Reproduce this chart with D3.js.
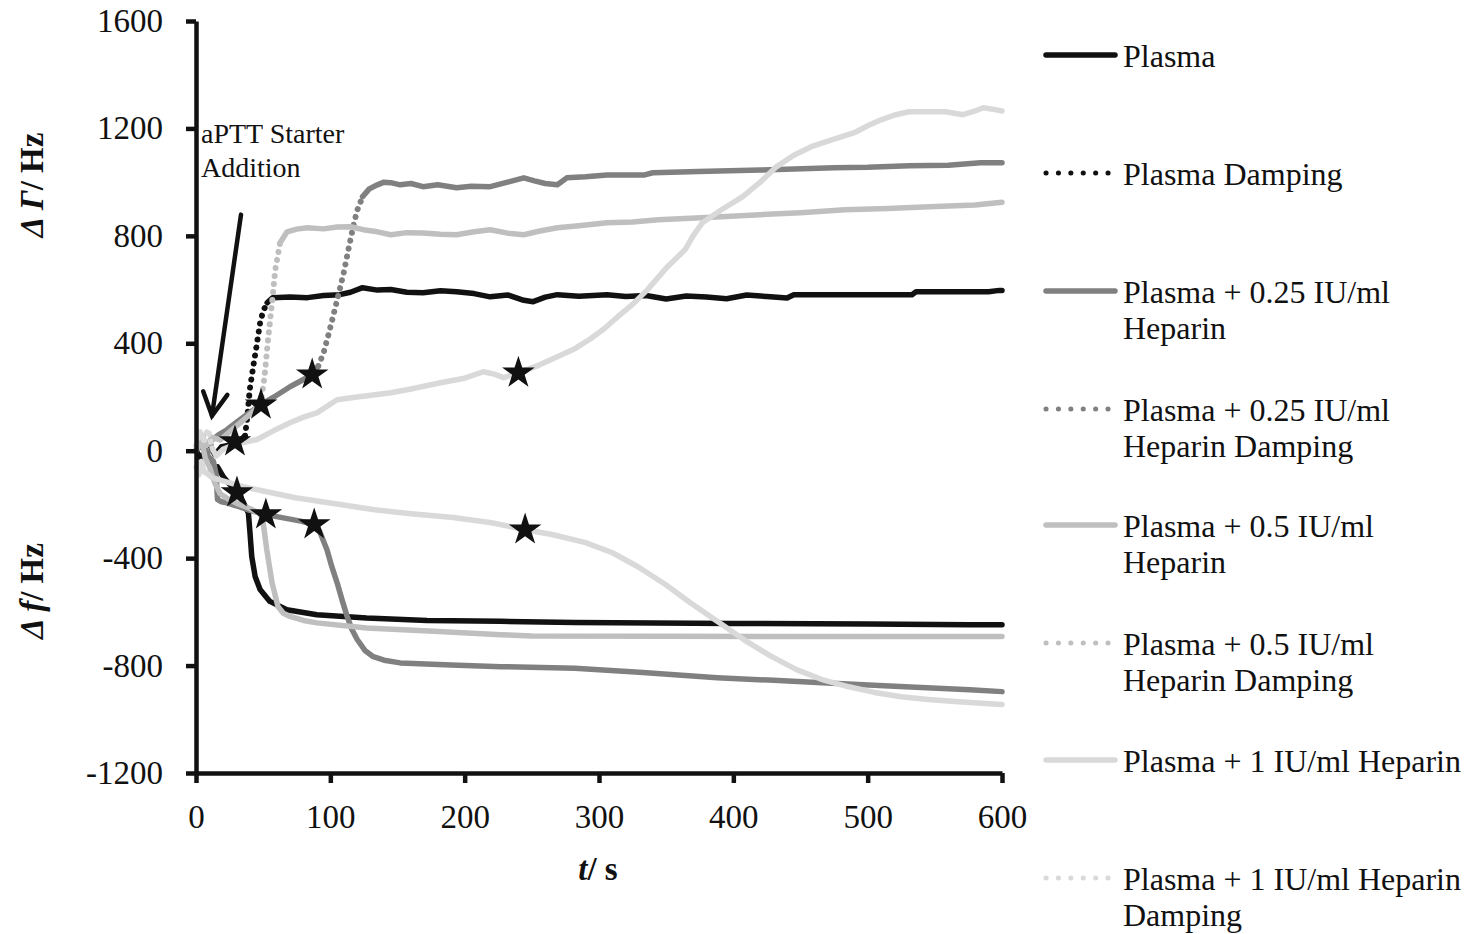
<!DOCTYPE html>
<html><head><meta charset="utf-8">
<script src="https://cdn.jsdelivr.net/npm/d3@7"></script>
<style>
body{margin:0;background:#fff}
svg text{font-family:"Liberation Serif","Times New Roman",serif;fill:#111}
</style>
</head><body>
<svg id="c" width="1472" height="934"></svg>
<script>
// ---------- data (t in s, value in Hz) ----------
const xTicks = [0,100,200,300,400,500,600];
const yTicks = [-1200,-800,-400,0,400,800,1200,1600];

const seriesNames = [
  "Plasma","Plasma Damping",
  "Plasma + 0.25 IU/ml Heparin","Plasma + 0.25 IU/ml Heparin Damping",
  "Plasma + 0.5 IU/ml Heparin","Plasma + 0.5 IU/ml Heparin Damping",
  "Plasma + 1 IU/ml Heparin","Plasma + 1 IU/ml Heparin Damping"
];
const legendLines = [
  ["Plasma"],["Plasma Damping"],
  ["Plasma + 0.25 IU/ml","Heparin"],["Plasma + 0.25 IU/ml","Heparin Damping"],
  ["Plasma + 0.5 IU/ml","Heparin"],["Plasma + 0.5 IU/ml","Heparin Damping"],
  ["Plasma + 1 IU/ml Heparin"],["Plasma + 1 IU/ml Heparin","Damping"]
];

const plasmaF = [[0,0],[4,-30],[8,-15],[12,-70],[16,-60],[20,-95],[25,-125],[30,-156],[35,-190],[39,-232],[40.2,-306],[41.5,-394],[44,-468],[47.7,-517],[55,-561],[67.6,-592],[90,-611],[127,-623],[172,-632],[227,-635],[282,-640],[400,-643],[500,-645],[576,-648],[600,-648]];
const plasmaG = [[0,0],[3,35],[6,-25],[10,25],[14,-15],[19,15],[24,20],[29,34],[33,40],[36.5,55],[38.5,140],[40,227],[42.5,310],[45,387],[47.7,476],[50,520],[53,551],[57,570],[70,572],[83,570],[95,578],[107,581],[115,590],[124,607],[135,598],[145,600],[157,590],[169,588],[182,596],[194,592],[207,585],[219,573],[232,580],[244,560],[251,555],[260,572],[269,581],[285,575],[306,581],[320,574],[335,578],[350,565],[365,576],[380,572],[395,566],[410,580],[425,574],[440,569],[445,581],[480,581],[533,581],[536,592],[590,592],[598,597],[600,597]];
const hep025F = [[0,0],[5,30],[9,-20],[13,-40],[15,-90],[16,-182],[19,-190],[23,-194],[30,-205],[40,-222],[52,-238],[65,-250],[78,-262],[88,-275],[92,-300],[97.5,-369],[101,-430],[105,-491],[109,-560],[112.5,-617],[116,-665],[120,-703],[126,-745],[132,-767],[140,-780],[152,-790],[190,-798],[227,-804],[282,-810],[330,-825],[388,-845],[430,-855],[466,-864],[520,-877],[576,-890],[600,-897]];
const hep025G = [[0,0],[4,55],[8,-20],[12,40],[17,60],[23,78],[30,105],[38,135],[48,171],[58,200],[70,238],[80,265],[86.5,283],[91,315],[95,365],[98.5,430],[102,499],[106,580],[110,663],[113.5,750],[117,834],[120,895],[124,946],[129,975],[135,990],[140,1000],[145,998],[152,990],[160,995],[169,983],[180,990],[194,979],[205,985],[219,983],[232,1000],[244,1016],[252,1005],[260,995],[269,990],[276,1016],[290,1020],[306,1027],[334,1027],[340,1035],[374,1040],[420,1045],[475,1054],[500,1055],[531,1061],[560,1063],[584,1072],[600,1072]];
const hep05F = [[0,0],[4,40],[7,-30],[10,-60],[14,-120],[18,-160],[24,-180],[30,-195],[40,-215],[48,-235],[50,-268],[52.7,-369],[56.6,-491],[61,-580],[65,-605],[70,-617],[80,-632],[90,-641],[127,-660],[177,-672],[227,-685],[250,-690],[350,-691],[450,-692],[600,-692]];
const hep05G = [[0,0],[4,70],[8,20],[12,50],[18,40],[25,70],[32,100],[40,135],[48,171],[51,275],[53.6,413],[56.6,551],[59,674],[62.6,774],[67.8,815],[75,825],[83,830],[95,826],[105,833],[115,834],[124.5,823],[135,815],[145,804],[157,812],[169,811],[182,806],[194,804],[207,815],[219,823],[232,810],[244,804],[256,818],[269,830],[285,838],[306,849],[325,852],[344,860],[380,868],[420,879],[450,886],[483,897],[515,902],[546,908],[580,915],[600,925]];
const hep1F = [[0,-60],[2,-90],[4,-40],[6,-80],[7.5,-82],[12,-100],[20,-112],[35,-134],[50,-150],[74,-175],[100,-195],[133,-220],[160,-235],[191.5,-249],[220,-268],[245,-294],[265,-312],[290,-342],[310,-380],[329,-432],[350,-500],[368,-566],[388,-635],[408,-704],[428,-765],[447,-815],[466,-852],[486,-879],[505,-900],[525,-916],[545,-926],[565,-934],[585,-940],[600,-945]];
const hep1G = [[0,20],[3,70],[6,40],[9,80],[12,10],[15,-20],[20,5],[30,25],[45,41],[58,75],[70,104],[80,125],[90,141],[105,190],[120,200],[145,216],[160,230],[182,253],[200,270],[214,294],[222,285],[229,272],[240,290],[255,318],[269,350],[282,380],[294,418],[304,455],[314,499],[325,545],[336,599],[350,680],[364,748],[370,800],[377,849],[392,900],[407,946],[420,1000],[432,1057],[445,1100],[458,1132],[475,1160],[490,1184],[500,1210],[510,1232],[520,1250],[531,1262],[545,1262],[558,1262],[571,1251],[580,1265],[586,1277],[595,1270],[600,1265]];

const starT = [29,48.4,86.5,240,30.5,52,88,245];
const starV = [34,171,283,290,-156,-238,-275,-294];

// annotation arrow (data coords): tail and tip
const arrowT = [33.5, 11.9];
const arrowV = [879, 130];

// ---------- drawing ----------
const seriesData = [plasmaF, plasmaG, hep025F, hep025G, hep05F, hep05G, hep1F, hep1G];
const colors = ["#111111","#111111","#808080","#808080","#bfbfbf","#bfbfbf","#d9d9d9","#d9d9d9"];
const dotted = [false,true,false,true,false,true,false,true];

const svg = d3.select("#c");
const x = d3.scaleLinear().domain([0,600]).range([196,1002]);
const y = d3.scaleLinear().domain([-1200,1600]).range([773,21]);

const gLines = svg.append("g");
const line = d3.line();
const LW = 5.5;

seriesData.forEach((data,i) => {
  const pts = data.map(d => [x(d[0]), y(d[1])]);
  if (!dotted[i]) {
    gLines.append("path").attr("d", line(pts)).attr("fill","none")
      .attr("stroke", colors[i]).attr("stroke-width",LW)
      .attr("stroke-linejoin","round").attr("stroke-linecap","round");
    return;
  }
  const runs = []; let cur = null;
  for (let k=0;k<pts.length-1;k++){
    const dx = pts[k+1][0]-pts[k][0], dy = pts[k+1][1]-pts[k][1];
    const steep = Math.abs(dy) > 2*Math.abs(dx);
    if (!cur || cur.steep !== steep) { cur = {steep, pts:[pts[k]]}; runs.push(cur); }
    cur.pts.push(pts[k+1]);
  }
  runs.forEach(r => {
    const p = gLines.append("path").attr("d", line(r.pts)).attr("fill","none")
      .attr("stroke", colors[i]).attr("stroke-linejoin","round").attr("stroke-linecap","round");
    if (r.steep) p.attr("stroke-width",6).attr("stroke-dasharray","0.1 8");
    else p.attr("stroke-width",LW);
  });
});

// stars
svg.append("g").selectAll("path").data(starT).join("path")
  .attr("transform",(d,i)=>`translate(${x(d)},${y(starV[i])})`)
  .attr("d", d3.symbol().type(d3.symbolStar).size(330))
  .attr("fill","#111");

// axes
const yAxis = d3.axisLeft(y).tickValues(yTicks).tickSize(10).tickSizeOuter(0).tickPadding(23).tickFormat(d=>String(d));
const xAxis = d3.axisBottom(x).tickValues(xTicks).tickSize(10).tickSizeOuter(0).tickPadding(22).tickFormat(d=>String(d));
const gy = svg.append("g").attr("transform","translate(196,0)").call(yAxis);
const gx = svg.append("g").attr("transform","translate(0,773)").call(xAxis);
[gx,gy].forEach(g=>{
  g.attr("font-family",null).attr("font-size",null);
  g.select(".domain").attr("stroke","#111").attr("stroke-width",4.5);
  g.selectAll(".tick line").attr("stroke","#111").attr("stroke-width",4.5);
  g.selectAll(".tick text").style("font-size","33px").attr("fill","#111");
});

// axis titles
const t1 = svg.append("text").attr("transform","translate(43,185) rotate(-90)")
  .attr("text-anchor","middle").style("font-size","33px").attr("font-weight","bold");
t1.append("tspan").attr("font-style","italic").text("Δ Γ");
t1.append("tspan").text("/ Hz");
const t2 = svg.append("text").attr("transform","translate(43,591) rotate(-90)")
  .attr("text-anchor","middle").style("font-size","33px").attr("font-weight","bold");
t2.append("tspan").attr("font-style","italic").text("Δ f");
t2.append("tspan").text("/ Hz");
const t3 = svg.append("text").attr("x",598).attr("y",880)
  .attr("text-anchor","middle").style("font-size","33px").attr("font-weight","bold");
t3.append("tspan").attr("font-style","italic").text("t");
t3.append("tspan").text("/ s");

// annotation
svg.append("text").attr("x",201).attr("y",143).style("font-size","28px").text("aPTT Starter");
svg.append("text").attr("x",201).attr("y",177).style("font-size","28px").text("Addition");
const ax0 = x(arrowT[0]), ay0 = y(arrowV[0]), ax1 = x(arrowT[1]), ay1 = y(arrowV[1]);
const ang = Math.atan2(ay0-ay1, ax0-ax1);
const hl = 26, ha = 28*Math.PI/180;
const ga = svg.append("g").attr("stroke","#111").attr("stroke-width",4.5).attr("fill","none").attr("stroke-linecap","round");
ga.append("line").attr("x1",ax0).attr("y1",ay0).attr("x2",ax1).attr("y2",ay1);
ga.append("path").attr("stroke-linejoin","miter")
  .attr("d",`M${ax1+hl*Math.cos(ang-ha)},${ay1+hl*Math.sin(ang-ha)}L${ax1},${ay1}L${ax1+hl*Math.cos(ang+ha)},${ay1+hl*Math.sin(ang+ha)}`);

// legend
const legY = [55,173,291,409,525,643,760,878];
const lg = svg.append("g");
seriesNames.forEach((name,i)=>{
  const g = lg.append("g").attr("transform",`translate(0,${legY[i]})`);
  if (dotted[i]) {
    g.append("line").attr("x1",1046).attr("x2",1110).attr("y1",0).attr("y2",0)
      .attr("stroke",colors[i]).attr("stroke-width",5).attr("stroke-linecap","round")
      .attr("stroke-dasharray","0.1 12.3");
  } else {
    g.append("line").attr("x1",1046).attr("x2",1115).attr("y1",0).attr("y2",0)
      .attr("stroke",colors[i]).attr("stroke-width",5.5).attr("stroke-linecap","round");
  }
  legendLines[i].forEach((s,j)=>{
    g.append("text").attr("x",1123).attr("y",12+36*j).style("font-size","32px").text(s);
  });
});
</script>
</body></html>
